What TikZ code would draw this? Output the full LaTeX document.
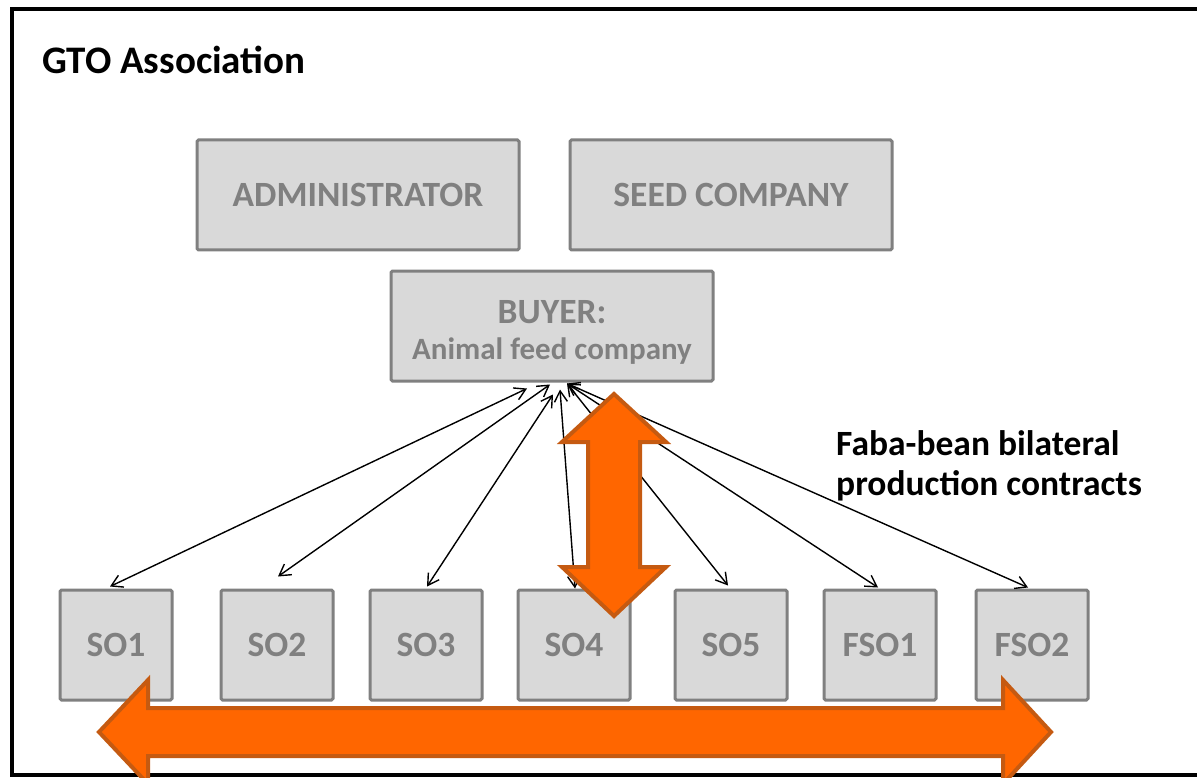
\documentclass[tikz,border=0pt]{standalone}
\usepackage{fontspec}
\setmainfont{Carlito}
\usetikzlibrary{arrows.meta,calc}
\definecolor{boxfill}{HTML}{D9D9D9}
\definecolor{boxline}{HTML}{808080}
\definecolor{orfill}{HTML}{FF6600}
\definecolor{orline}{HTML}{C55A11}
\tikzset{
  grbox/.style={draw=boxline, fill=boxfill, line width=3pt, rounded corners=1.5pt,
    text=boxline, font=\bfseries\fontsize{35.5}{40}\selectfont, inner sep=0pt,
    minimum width=322pt, minimum height=110pt, align=center},
  sobox/.style={grbox, minimum width=112pt},
  link/.style={draw=black, line width=1.4pt, {Straight Barb[length=11pt,width=13pt]}-{Straight Barb[length=11pt,width=13pt]}},
  bigarrow/.style={draw=orline, fill=orfill, line width=4pt, line join=miter},
  title/.style={font=\bfseries\fontsize{35.5}{40}\selectfont, inner sep=0pt, text=black}
}
\begin{document}
\begin{tikzpicture}[x=1pt,y=-1pt]
\useasboundingbox (0,0) rectangle (1197,778);
\clip (0,0) rectangle (1197,778);
\draw[line width=4pt] (12,9) rectangle (1215,775);
\node[title, anchor=base west, font=\bfseries\fontsize{39}{44}\selectfont] (gto) at (42,74) {GTO Association};
\node[grbox] (admin) at (358,195) {ADMINISTRATOR};
\node[grbox] (seed) at (731,195) {SEED COMPANY};
\node[grbox, font=\bfseries\fontsize{31}{38}\selectfont] (buyer) at (552,326) {\fontsize{35.5}{38}\selectfont\rule{0pt}{35pt}BUYER:\\[-2pt]Animal feed company};
\node[sobox] (so1) at (116,645) {SO1};
\node[sobox] (so2) at (277,645) {SO2};
\node[sobox] (so3) at (426,645) {SO3};
\node[sobox] (so4) at (574,645) {SO4};
\node[sobox] (so5) at (731,645) {SO5};
\node[sobox] (fso1) at (880,645) {FSO1};
\node[sobox] (fso2) at (1032,645) {FSO2};
\node[title, anchor=base west] (faba) at (836,455) {Faba-bean bilateral};
\node[title, anchor=base west] (faba2) at (836,495) {production contracts};
% links
\draw[link] ([xshift=-6pt,yshift=2pt]so1.north) -- ([xshift=-25pt,yshift=-6pt]buyer.south);
\draw[link] ([xshift=1pt,yshift=12pt]so2.north) -- ([xshift=-2pt,yshift=-2pt]buyer.south);
\draw[link] ([xshift=1pt,yshift=2pt]so3.north) -- ([xshift=1pt,yshift=-12pt]buyer.south);
\draw[link] ([xshift=1pt,yshift=0pt]so4.north) -- ([xshift=8pt,yshift=-7pt]buyer.south);
\draw[link] ([xshift=-3pt,yshift=3pt]so5.north) -- ([xshift=15pt,yshift=-1pt]buyer.south);
\draw[link] ([xshift=-2pt,yshift=1pt]fso1.north) -- ([xshift=15pt,yshift=-1pt]buyer.south);
\draw[link] ([xshift=-4pt,yshift=1pt]fso2.north) -- ([xshift=15pt,yshift=-1pt]buyer.south);
% big orange arrows
\draw[bigarrow] (614,394) -- (666,442) -- (640,442) -- (640,567) -- (666,567) -- (614,616)
  -- (562,567) -- (588,567) -- (588,442) -- (562,442) -- cycle;
\draw[bigarrow] (99,732) -- (148,680) -- (148,708) -- (1003,708) -- (1003,680) -- (1051,732)
  -- (1003,784) -- (1003,756) -- (148,756) -- (148,784) -- cycle;
\end{tikzpicture}
\end{document}
